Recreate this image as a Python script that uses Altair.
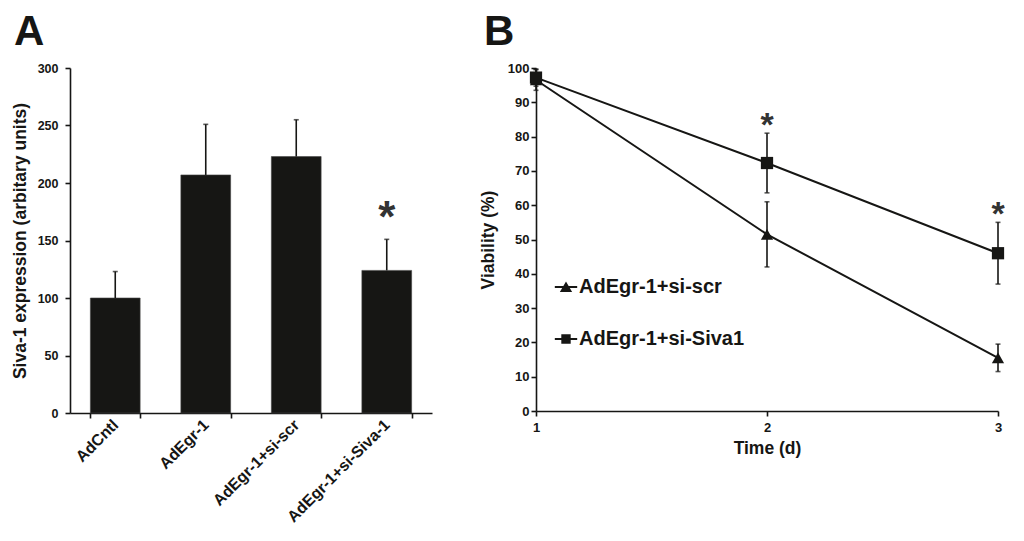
import altair as alt
import pandas as pd

# ---------------- data ----------------
categories = ["AdCntl", "AdEgr-1", "AdEgr-1+si-scr", "AdEgr-1+si-Siva-1"]
expression = [100, 207, 223, 124]
expression_err = [23, 44, 32, 27]
sig_a = ["", "", "", "*"]

days = [1, 2, 3]
series_names = ["AdEgr-1+si-scr", "AdEgr-1+si-Siva1"]
scr_mean = [96.5, 51.5, 15.5]
scr_err = [3, 9.5, 4]
siva_mean = [97.2, 72.3, 46]
siva_err = [2.5, 8.7, 9]
sig_scr = ["", "", ""]
sig_siva = ["", "*", "*"]

FONT = "Liberation Sans"
INK = "#161614"

df_a = pd.DataFrame({
    "cat": categories,
    "val": expression,
    "hi": [v + e for v, e in zip(expression, expression_err)],
    "sig": sig_a,
})

rows = []
for name, means, errs, sigs in [
    (series_names[0], scr_mean, scr_err, sig_scr),
    (series_names[1], siva_mean, siva_err, sig_siva),
]:
    for d, m, e, s in zip(days, means, errs, sigs):
        rows.append({"day": d, "series": name, "key": name, "mean": m, "lo": m - e, "hi": m + e, "sig": s})
df_b = pd.DataFrame(rows)

# ---------------- panel A ----------------
xa_axis = alt.Axis(title=None, labelAngle=-45, labelAlign="right", labelBaseline="middle",
                   tickBand="extent", labelPadding=4, labelLimit=300, labelFontSize=16)
xa_scale = alt.Scale(paddingInner=0.45, paddingOuter=0.225)
ya_axis = alt.Axis(title="Siva-1 expression (arbitary units)", values=[0, 50, 100, 150, 200, 250, 300],
                   tickCount=7, titlePadding=8, labelPadding=7, labelFontSize=12.5)
ya_scale = alt.Scale(domain=[0, 300], nice=False)


def xa():
    return alt.X("cat:N", sort=categories, scale=xa_scale, axis=xa_axis)


def ya(field):
    return alt.Y(field, scale=ya_scale, axis=ya_axis)


base_a = alt.Chart(df_a)
bars = base_a.mark_bar(color=INK, stroke="#444", strokeWidth=0.6).encode(x=xa(), y=ya("val:Q"))
err_a = base_a.mark_rule(color=INK, strokeWidth=1.6).encode(x=xa(), y=ya("val:Q"), y2="hi:Q")
cap_a = base_a.mark_tick(color=INK, orient="horizontal", size=5, thickness=1.6).encode(x=xa(), y=ya("hi:Q"))
star_a = base_a.transform_filter(alt.datum.sig != "").mark_text(
    font=FONT, fontSize=44, fontWeight="bold", color="#333", baseline="alphabetic", dy=-7
).encode(x=xa(), y=ya("hi:Q"), text="sig:N")

panel_a = alt.layer(bars, err_a, cap_a, star_a).properties(
    width=362, height=345,
    title=alt.TitleParams("A", anchor="start", frame="group", fontSize=42, fontWeight="bold",
                          font=FONT, color=INK, dx=-56, offset=8),
)

# ---------------- panel B ----------------
xb_axis = alt.Axis(title="Time (d)", labelAngle=0, titlePadding=5, labelPadding=5, labelFontSize=13)
xb_scale = alt.Scale(type="point", domain=days, padding=0)
yb_axis = alt.Axis(title="Viability (%)", values=list(range(0, 101, 10)), tickCount=11, titlePadding=10,
                   labelOverlap=False, labelFontSize=13)
yb_scale = alt.Scale(domain=[0, 100], nice=False)


def xb():
    return alt.X("day:O", scale=xb_scale, axis=xb_axis)


def yb(field):
    return alt.Y(field, scale=yb_scale, axis=yb_axis)


base_b = alt.Chart(df_b)
lines = base_b.mark_line(color=INK, strokeWidth=2).encode(x=xb(), y=yb("mean:Q"), detail="series:N")
err_b = base_b.mark_rule(color=INK, strokeWidth=1.6).encode(x=xb(), y=yb("lo:Q"), y2="hi:Q")
cap_lo = base_b.mark_tick(color=INK, orient="horizontal", size=5, thickness=1.6).encode(x=xb(), y=yb("lo:Q"))
cap_hi = base_b.mark_tick(color=INK, orient="horizontal", size=5, thickness=1.6).encode(x=xb(), y=yb("hi:Q"))

points = base_b.mark_point(filled=True, opacity=1, color=INK, size=150).encode(
    x=xb(), y=yb("mean:Q"),
    shape=alt.Shape("series:N", scale=alt.Scale(domain=series_names, range=["triangle-up", "square"]),
                    legend=None),
)
legend_layer = base_b.mark_point(filled=True, opacity=0, color=INK, size=125).encode(
    x=xb(), y=yb("mean:Q"),
    shape=alt.Shape("key:N", scale=alt.Scale(domain=series_names,
                                             range=["M-1,-0.09H1V0.09H-1ZM-0.55,0.45L0,-0.5L0.55,0.45Z",
                                                    "M-1,-0.09H1V0.09H-1ZM-0.42,-0.42H0.42V0.42H-0.42Z"]),
                    legend=alt.Legend(title=None, orient="none", legendX=18, legendY=207,
                                      labelFont=FONT, labelFontSize=20, labelFontWeight="bold",
                                      labelColor=INK, labelLimit=400, labelOffset=1,
                                      symbolSize=500, symbolFillColor=INK,
                                      rowPadding=30, symbolOpacity=1)),
)
star_b = base_b.transform_filter(alt.datum.sig != "").mark_text(
    font=FONT, fontSize=34, fontWeight="bold", color="#333", baseline="alphabetic", dy=3
).encode(x=xb(), y=yb("hi:Q"), text="sig:N")

panel_b = alt.layer(lines, err_b, cap_lo, cap_hi, points, legend_layer, star_b).resolve_scale(
    shape="independent").properties(
    width=462, height=343,
    title=alt.TitleParams("B", anchor="start", frame="group", fontSize=42, fontWeight="bold",
                          font=FONT, color=INK, dx=-52, offset=8),
)

chart = alt.hconcat(panel_a, panel_b, spacing=47).properties(
    padding={"left": 3, "top": 3, "right": 0, "bottom": 0}
).configure_view(stroke=None).configure_axis(
    grid=False, domainColor=INK, tickColor=INK, labelColor=INK, titleColor=INK,
    labelFont=FONT, titleFont=FONT, labelFontSize=12, labelFontWeight="bold",
    titleFontSize=17.5, titleFontWeight="bold", tickSize=5, domainWidth=1.6, tickWidth=1.6,
)

chart.save("out.html", embed_options={"renderer": "svg", "actions": False})
